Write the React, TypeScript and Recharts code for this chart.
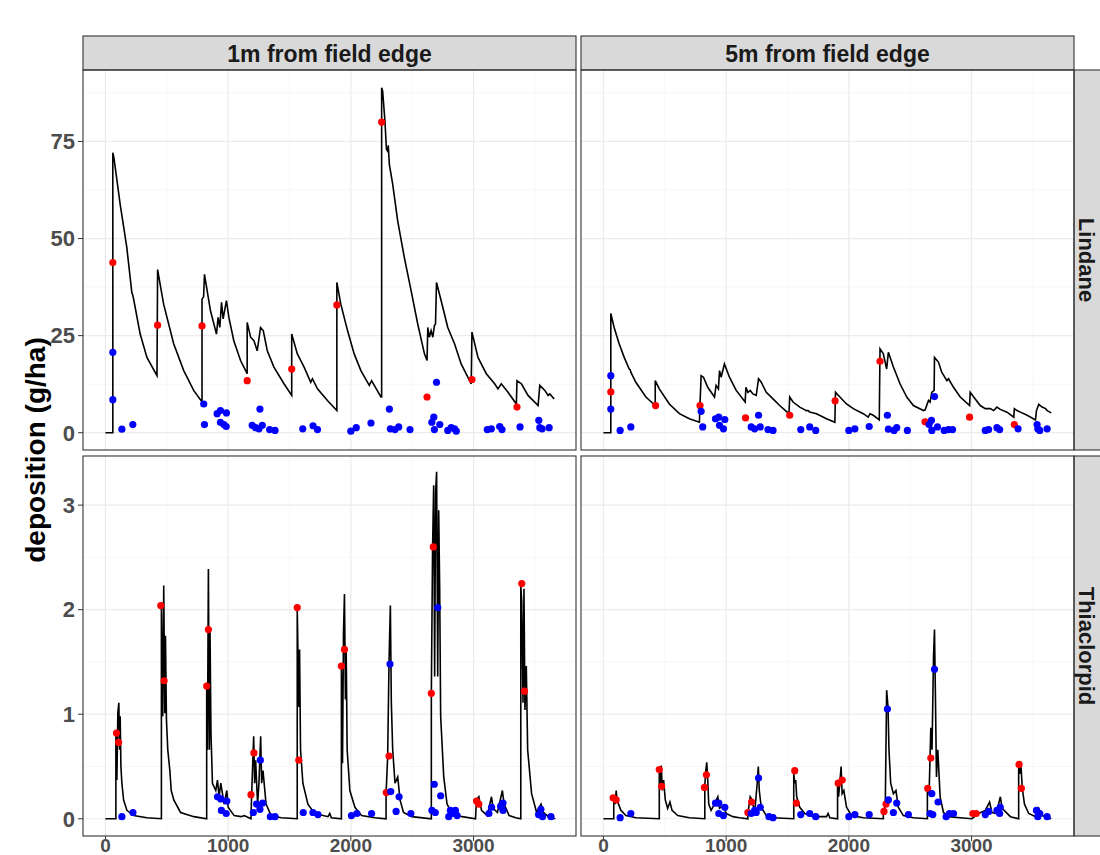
import React from 'react';
import { ComposedChart, Line, Scatter, XAxis, YAxis, CartesianGrid } from 'recharts';

type Pt = [number, number];

const FONT = '"Liberation Sans", Arial, sans-serif';

// facet labels
const columns = ['1m from field edge', '5m from field edge'];
const rows = ['Lindane', 'Thiaclorpid'];

// axis ticks
const xTicks = [0, 1000, 2000, 3000];
const xMinor = [500, 1500, 2500, 3500];
const lindaneTicks = [0, 25, 50, 75];
const lindaneMinor = [12.5, 37.5, 62.5, 87.5];
const thiaTicks = [0, 1, 2, 3];
const thiaMinor = [0.5, 1.5, 2.5];

// Lindane, 1m
const lindane1mLine: Pt[] = [
  [0, 0], [60, 0], [60, 72.1], [68, 71], [120, 58.8], [174, 47.7], [215, 36.1], [222, 35.5], [229, 34.5],
  [283, 25.4], [338, 19.4], [420, 14.7], [425, 42], [474, 33.1], [556, 22.9], [638, 16], [719, 10.9],
  [787, 7.9], [787, 34.4], [800, 35], [807, 40.8], [856, 31.4], [905, 25.4], [918, 29.7], [932, 27.1],
  [946, 33.6], [959, 29.3], [986, 34], [1006, 29.7], [1046, 23.7], [1101, 18.6], [1155, 15.2], [1155, 28.4],
  [1183, 24.6], [1210, 23.7], [1237, 21.1], [1264, 27.1], [1286, 26.3], [1319, 21.1], [1373, 16.9],
  [1455, 12.6], [1518, 9.6], [1518, 25.4], [1564, 20.3], [1619, 16.9], [1673, 13], [1687, 13.9],
  [1728, 11.3], [1809, 8.3], [1886, 5.7], [1886, 38.7], [1918, 33.1], [1973, 26.3], [2027, 20.3],
  [2082, 16], [2150, 12.2], [2169, 13.4], [2245, 9.2], [2251, 9.2], [2251, 88.8], [2259, 88], [2278, 80.2],
  [2290, 73], [2300, 72.5], [2305, 74], [2314, 69], [2341, 64], [2382, 54.5], [2436, 45.1], [2491, 36.6],
  [2545, 28], [2600, 20.3], [2621, 18.6], [2627, 27.1], [2640, 24.6], [2654, 26.3], [2668, 24.6],
  [2681, 27.6], [2690, 28], [2698, 38.7], [2736, 34], [2790, 27.1], [2845, 22.9], [2899, 17.7],
  [2981, 12.6], [2987, 25.9], [3036, 19.4], [3104, 15.2], [3172, 12.6], [3199, 11.3], [3226, 12.6],
  [3281, 10.4], [3349, 7.4], [3354, 13.4], [3390, 12.6], [3444, 9.6], [3526, 7], [3540, 12.2],
  [3581, 10.9], [3608, 9.6], [3622, 10], [3657, 8.7],
];
const lindane1mRed: Pt[] = [
  [60, 43.8], [425, 27.7], [787, 27.5], [1155, 13.4], [1518, 16.4], [1886, 32.9], [2251, 80],
  [2621, 9.2], [2987, 13.7], [3354, 6.6],
];
const lindane1mBlue: Pt[] = [
  [60, 20.7], [60, 8.5], [134, 0.9], [223, 2.1], [801, 7.4], [807, 2.1], [910, 4.9], [937, 5.7],
  [986, 5.1], [937, 2.7], [965, 2.1], [984, 1.6], [1196, 1.9], [1224, 1.3], [1251, 1], [1278, 1.9],
  [1259, 6.1], [1338, 0.8], [1382, 0.6], [1608, 1], [1692, 1.8], [1728, 0.8], [2000, 0.4], [2044, 1.3],
  [2164, 2.5], [2314, 6.1], [2322, 1], [2360, 0.8], [2390, 1.5], [2482, 0.8], [2676, 4], [2660, 2.7],
  [2698, 13], [2681, 0.8], [2725, 2.1], [2790, 0.6], [2818, 1.3], [2845, 1], [2859, 0.4], [3112, 0.8],
  [3145, 1], [3213, 1.6], [3232, 0.8], [3379, 1.5], [3532, 3.2], [3540, 1.3], [3559, 1], [3616, 1.3],
];

// Lindane, 5m
const lindane5mLine: Pt[] = [
  [0, 0], [60, 0], [60, 30.7], [87, 27.1], [128, 22.9], [169, 19.4], [210, 16.4], [218, 16.2], [223, 15.6],
  [264, 13], [346, 9.2], [422, 7], [422, 13.4], [455, 11.3], [537, 7.4], [619, 4.9], [700, 3.6], [782, 2.7],
  [787, 7.4], [796, 14.7], [815, 14.3], [850, 11.7], [905, 9.2], [918, 12.2], [937, 11.3], [946, 16],
  [959, 14.3], [986, 17.7], [1027, 14.3], [1082, 10.9], [1155, 7.9], [1161, 11.7], [1177, 10.4],
  [1196, 10.9], [1218, 10], [1245, 9.6], [1264, 13.9], [1286, 13], [1327, 10.4], [1382, 8.7], [1436, 7],
  [1512, 4.9], [1518, 9.2], [1545, 7.9], [1600, 6.6], [1654, 5.7], [1668, 5.7], [1681, 5.3], [1736, 4.9],
  [1818, 3.6], [1886, 2.7], [1891, 10.4], [1927, 9.2], [1981, 7.4], [2036, 6.2], [2117, 4.9], [2158, 4],
  [2172, 4.9], [2199, 4.5], [2248, 3.3], [2254, 21.6], [2281, 20.3], [2308, 16.4], [2322, 20.7],
  [2363, 16.9], [2417, 12.6], [2472, 9.2], [2526, 7], [2608, 5.7], [2622, 5.9], [2649, 8.3], [2662, 7.9],
  [2676, 10.4], [2695, 10.9], [2698, 19.4], [2730, 18.2], [2757, 15.6], [2799, 13.4], [2812, 13.9],
  [2853, 11.7], [2908, 9.2], [2984, 7], [2989, 10.4], [3030, 8.7], [3071, 7], [3112, 6.2], [3153, 6.2],
  [3180, 5.7], [3207, 6.6], [3234, 6], [3289, 5.3], [3344, 4], [3349, 6.2], [3371, 5.7], [3398, 5.3],
  [3453, 4.5], [3521, 3.3], [3529, 5.7], [3548, 7.3], [3575, 6.6], [3603, 6.2], [3617, 5.7], [3649, 5.1],
];
const lindane5mRed: Pt[] = [
  [60, 10.5], [425, 7], [787, 7], [1158, 3.8], [1518, 4.5], [1888, 8.2], [2254, 18.4], [2621, 2.8],
  [2984, 4], [3349, 2.1],
];
const lindane5mBlue: Pt[] = [
  [60, 14.7], [60, 6.1], [136, 0.6], [223, 1.5], [796, 5.5], [809, 1.5], [913, 3.6], [940, 4], [989, 3.4],
  [946, 1.9], [978, 1], [1204, 1.5], [1232, 1], [1264, 4.5], [1278, 1.5], [1341, 0.8], [1382, 0.6],
  [1608, 0.8], [1681, 1.5], [1730, 0.6], [2000, 0.6], [2049, 1], [2166, 1.6], [2314, 4.5], [2322, 0.9],
  [2368, 0.6], [2390, 1.3], [2477, 0.6], [2654, 2.1], [2673, 3.2], [2698, 9.3], [2676, 0.6], [2722, 1.5],
  [2777, 0.6], [2812, 0.8], [2845, 0.8], [3112, 0.6], [3139, 0.8], [3207, 1.3], [3229, 0.8], [3379, 1],
  [3534, 2.1], [3540, 1], [3556, 0.6], [3616, 1],
];

// Thiaclorpid, 1m
const thia1mLine: Pt[] = [
  [0, 0], [85, 0], [85, 0.82], [93, 0.37], [101, 1.01], [109, 1.11], [115, 0.66], [120, 0.98], [126, 0.5],
  [134, 0.34], [148, 0.18], [175, 0.08], [229, 0.03], [339, 0.01], [456, 0], [456, 2.07], [467, 0.98],
  [475, 2.23], [484, 1.01], [489, 1.75], [497, 0.95], [508, 0.66], [525, 0.46], [536, 0.27], [557, 0.18],
  [612, 0.06], [721, 0.02], [825, 0], [825, 1.3], [831, 0.66], [839, 2.39], [847, 0.66], [852, 1.81],
  [860, 0.82], [872, 0.34], [899, 0.27], [913, 0.37], [926, 0.21], [940, 0.34], [967, 0.14], [989, 0.27],
  [1000, 0.11], [1049, 0.03], [1104, 0.02], [1131, 0.03], [1186, 0], [1191, 0.21], [1208, 0.79],
  [1216, 0.34], [1224, 0.56], [1240, 0.14], [1251, 0.34], [1265, 0.79], [1273, 0.34], [1284, 0.46],
  [1309, 0.14], [1350, 0.03], [1432, 0.01], [1563, 0], [1563, 2.02], [1568, 1.65], [1576, 1.07],
  [1582, 1.62], [1590, 0.66], [1609, 0.34], [1650, 0.14], [1705, 0.05], [1814, 0.02], [1828, 0.05],
  [1841, 0.01], [1923, 0], [1923, 1.46], [1932, 0.53], [1940, 1.78], [1948, 2.15], [1956, 1.14],
  [1962, 1.62], [1970, 0.66], [1992, 0.27], [2033, 0.11], [2087, 0.03], [2197, 0.01], [2287, 0],
  [2287, 0.24], [2300, 0.59], [2311, 1.49], [2322, 2.04], [2330, 1.11], [2341, 0.66], [2360, 0.34],
  [2382, 0.4], [2401, 0.18], [2429, 0.06], [2497, 0.02], [2656, 0], [2656, 1.2], [2666, 2.58],
  [2675, 3.19], [2683, 1.36], [2691, 3.13], [2699, 3.32], [2708, 1.36], [2716, 2.95], [2724, 2.2],
  [2732, 0.98], [2757, 0.4], [2784, 0.14], [2825, 0.05], [2907, 0.02], [3016, 0], [3024, 0.18],
  [3043, 0.21], [3065, 0.08], [3112, 0.03], [3146, 0.21], [3160, 0.1], [3195, 0.06], [3235, 0.27],
  [3249, 0.14], [3290, 0.03], [3344, 0.01], [3385, 0], [3385, 2.23], [3393, 2.07], [3403, 1.11],
  [3411, 2.2], [3419, 1.04], [3430, 1.46], [3441, 0.66], [3473, 0.24], [3514, 0.06], [3550, 0.14],
  [3569, 0.06], [3610, 0.02], [3666, 0],
];
const thia1mRed: Pt[] = [
  [90, 0.82], [107, 0.73], [451, 2.04], [478, 1.32], [839, 1.81], [825, 1.27], [1186, 0.23], [1210, 0.63],
  [1563, 2.02], [1576, 0.56], [1923, 1.46], [1948, 1.62], [2289, 0.25], [2311, 0.6], [2656, 1.2],
  [2672, 2.6], [3024, 0.17], [3043, 0.14], [3393, 2.25], [3415, 1.22],
];
const thia1mBlue: Pt[] = [
  [134, 0.02], [224, 0.06], [913, 0.21], [940, 0.19], [989, 0.17], [945, 0.08], [984, 0.05], [1205, 0.06],
  [1232, 0.14], [1262, 0.56], [1281, 0.15], [1259, 0.09], [1344, 0.02], [1382, 0.02], [1612, 0.06],
  [1691, 0.06], [1732, 0.04], [2005, 0.03], [2049, 0.05], [2169, 0.05], [2319, 1.48], [2325, 0.26],
  [2369, 0.07], [2393, 0.21], [2489, 0.05], [2708, 2.02], [2680, 0.33], [2661, 0.08], [2688, 0.06],
  [2732, 0.22], [2798, 0.02], [2811, 0.08], [2839, 0.05], [2852, 0.08], [2866, 0.03], [3125, 0.05],
  [3147, 0.11], [3221, 0.12], [3240, 0.15], [3240, 0.08], [3530, 0.04], [3549, 0.09], [3562, 0.02],
  [3631, 0.02],
];

// Thiaclorpid, 5m
const thia5mLine: Pt[] = [
  [0, 0], [84, 0], [84, 0.21], [95, 0.14], [104, 0.27], [112, 0.16], [123, 0.14], [142, 0.08], [183, 0.03],
  [265, 0.01], [455, 0], [455, 0.46], [463, 0.34], [471, 0.51], [480, 0.27], [490, 0.37], [504, 0.18],
  [523, 0.1], [542, 0.16], [559, 0.08], [605, 0.03], [700, 0.01], [826, 0], [826, 0.32], [834, 0.46],
  [842, 0.54], [850, 0.37], [858, 0.14], [877, 0.08], [905, 0.14], [932, 0.21], [946, 0.1], [978, 0.13],
  [1000, 0.05], [1054, 0.02], [1109, 0.01], [1177, 0], [1177, 0.05], [1196, 0.21], [1213, 0.18],
  [1232, 0.05], [1253, 0.34], [1262, 0.5], [1270, 0.27], [1286, 0.11], [1327, 0.03], [1382, 0.01],
  [1551, 0], [1551, 0.43], [1559, 0.34], [1567, 0.37], [1575, 0.21], [1600, 0.11], [1641, 0.05],
  [1708, 0.02], [1818, 0.02], [1831, 0.05], [1845, 0.01], [1908, 0], [1908, 0.34], [1916, 0.21],
  [1927, 0.35], [1937, 0.5], [1945, 0.24], [1959, 0.27], [1981, 0.11], [2022, 0.03], [2117, 0.01],
  [2281, 0], [2281, 0.05], [2297, 0.14], [2308, 1.23], [2319, 1.07], [2327, 0.66], [2341, 0.34],
  [2363, 0.24], [2384, 0.27], [2403, 0.11], [2444, 0.03], [2526, 0.01], [2640, 0], [2640, 0.27],
  [2654, 0.24], [2668, 0.87], [2678, 0.66], [2690, 1.55], [2698, 1.81], [2706, 1.14], [2714, 0.4],
  [2725, 0.66], [2744, 0.21], [2771, 0.06], [2812, 0.02], [2907, 0.01], [3003, 0], [3057, 0.05],
  [3112, 0.08], [3147, 0.16], [3166, 0.06], [3201, 0.05], [3235, 0.21], [3249, 0.1], [3317, 0.02],
  [3384, 0], [3384, 0.51], [3392, 0.43], [3403, 0.5], [3414, 0.29], [3431, 0.14], [3466, 0.05],
  [3521, 0.02], [3548, 0.1], [3575, 0.03], [3649, 0],
];
const thia5mRed: Pt[] = [
  [79, 0.2], [104, 0.18], [455, 0.47], [474, 0.31], [823, 0.3], [839, 0.42], [1177, 0.06], [1207, 0.16],
  [1559, 0.46], [1572, 0.15], [1913, 0.34], [1946, 0.37], [2286, 0.07], [2303, 0.14], [2643, 0.29],
  [2668, 0.58], [3011, 0.05], [3038, 0.05], [3387, 0.52], [3406, 0.29],
];
const thia5mBlue: Pt[] = [
  [136, 0.01], [223, 0.05], [913, 0.15], [940, 0.15], [989, 0.11], [940, 0.05], [978, 0.03], [1204, 0.05],
  [1232, 0.08], [1264, 0.39], [1278, 0.11], [1245, 0.06], [1349, 0.02], [1382, 0.01], [1608, 0.04],
  [1681, 0.05], [1730, 0.02], [2000, 0.02], [2049, 0.04], [2166, 0.04], [2314, 1.05], [2322, 0.18],
  [2363, 0.06], [2390, 0.15], [2485, 0.04], [2698, 1.43], [2676, 0.24], [2662, 0.05], [2684, 0.04],
  [2727, 0.16], [2793, 0.02], [2820, 0.05], [2853, 0.05], [3112, 0.04], [3139, 0.07], [3207, 0.08],
  [3234, 0.11], [3229, 0.05], [3529, 0.08], [3540, 0.02], [3556, 0.05], [3616, 0.02],
];

const toRows = (pts: Pt[]) => pts.map(([x, y]) => ({ x, y }));

const panels = [
  { row: 0, col: 0, line: lindane1mLine, red: lindane1mRed, blue: lindane1mBlue },
  { row: 0, col: 1, line: lindane5mLine, red: lindane5mRed, blue: lindane5mBlue },
  { row: 1, col: 0, line: thia1mLine, red: thia1mRed, blue: thia1mBlue },
  { row: 1, col: 1, line: thia5mLine, red: thia5mRed, blue: thia5mBlue },
];

// panel boxes (plot area, page px)
const colX = [83, 581];
const colW = 493;
const rowY = [70, 456];
const rowH = 380;

const YTick = (props: any) => (
  <text x={props.x} y={props.y} dy={7.8} textAnchor="end" fontSize={22} fontWeight="bold"
    fill="#4d4d4d" fontFamily={FONT}>{props.payload.value}</text>
);
const XTick = (props: any) => (
  <text x={props.x} y={props.y} dy={9} textAnchor="middle" fontSize={19} fontWeight="bold"
    fill="#4d4d4d" fontFamily={FONT}>{props.payload.value}</text>
);

const dot = (color: string) => (p: any) => <circle cx={p.cx} cy={p.cy} r={3.6} fill={color} />;

function Panel({ row, col, line, red, blue }: any) {
  const isLeft = col === 0;
  const isBottom = row === 1;
  const major = row === 0 ? lindaneTicks : thiaTicks;
  const minor = row === 0 ? lindaneMinor : thiaMinor;
  const yDomain = row === 0 ? [-4.45, 93.4] : [-0.165, 3.47];
  const width = isLeft ? colX[0] + colW : colW;
  const height = isBottom ? 855 - rowY[1] : rowH;
  return (
    <div style={{ position: 'absolute', left: isLeft ? 0 : colX[1], top: rowY[row] }}>
      <ComposedChart width={width} height={height} margin={{ top: 0, right: 0, bottom: 0, left: 0 }}>
        <CartesianGrid stroke="#f3f3f3" strokeWidth={0.7} verticalValues={xMinor} horizontalValues={minor} />
        <CartesianGrid stroke="#ebebeb" strokeWidth={1.2} verticalValues={xTicks} horizontalValues={major} />
        <XAxis type="number" dataKey="x" domain={[-183, 3835]} ticks={xTicks} allowDataOverflow
          hide={!isBottom} height={height - rowH} axisLine={false} tickSize={5} tickMargin={2}
          tickLine={{ stroke: '#333333' }} tick={<XTick />} />
        <YAxis type="number" domain={yDomain} ticks={major} allowDataOverflow hide={!isLeft}
          width={colX[0]} axisLine={false} tickSize={5} tickMargin={3}
          tickLine={{ stroke: '#333333' }} tick={<YTick />} />
        <Line data={toRows(line)} dataKey="y" type="linear" stroke="#000000" strokeWidth={1.6}
          dot={false} isAnimationActive={false} />
        <Scatter data={toRows(red)} dataKey="y" fill="#ff0000" shape={dot('#ff0000')} isAnimationActive={false} />
        <Scatter data={toRows(blue)} dataKey="y" fill="#0000ff" shape={dot('#0000ff')} isAnimationActive={false} />
      </ComposedChart>
    </div>
  );
}

export default function App() {
  return (
    <div style={{ position: 'absolute', left: 0, top: 0, width: 1100, height: 855, overflow: 'hidden', background: '#fff' }}>
      {panels.map((p, i) => <Panel key={i} {...p} />)}
      <svg width={1100} height={855} style={{ position: 'absolute', left: 0, top: 0, pointerEvents: 'none' }}>
        {columns.map((c, i) => (
          <g key={c}>
            <rect x={colX[i]} y={36} width={colW} height={34} fill="#d9d9d9" stroke="#333333" strokeWidth={1.1} />
            <text x={colX[i] + colW / 2} y={62} textAnchor="middle" fontSize={23} fontWeight="bold"
              fill="#1a1a1a" fontFamily={FONT}>{c}</text>
          </g>
        ))}
        {rows.map((r, i) => (
          <g key={r}>
            <rect x={colX[1] + colW} y={rowY[i]} width={40} height={rowH} fill="#d9d9d9" stroke="#333333" strokeWidth={1.1} />
            <text transform={`translate(${colX[1] + colW + 5},${rowY[i] + rowH / 2}) rotate(90)`} textAnchor="middle"
              fontSize={22} fontWeight="bold" fill="#1a1a1a" fontFamily={FONT}>{r}</text>
          </g>
        ))}
        {panels.map((p, i) => (
          <rect key={i} x={colX[p.col]} y={rowY[p.row]} width={colW} height={rowH} fill="none"
            stroke="#333333" strokeWidth={1.1} />
        ))}
        <text transform="translate(45,450) rotate(-90)" textAnchor="middle" fontSize={28} fontWeight="bold"
          fill="#000000" fontFamily={FONT}>deposition (g/ha)</text>
      </svg>
    </div>
  );
}
